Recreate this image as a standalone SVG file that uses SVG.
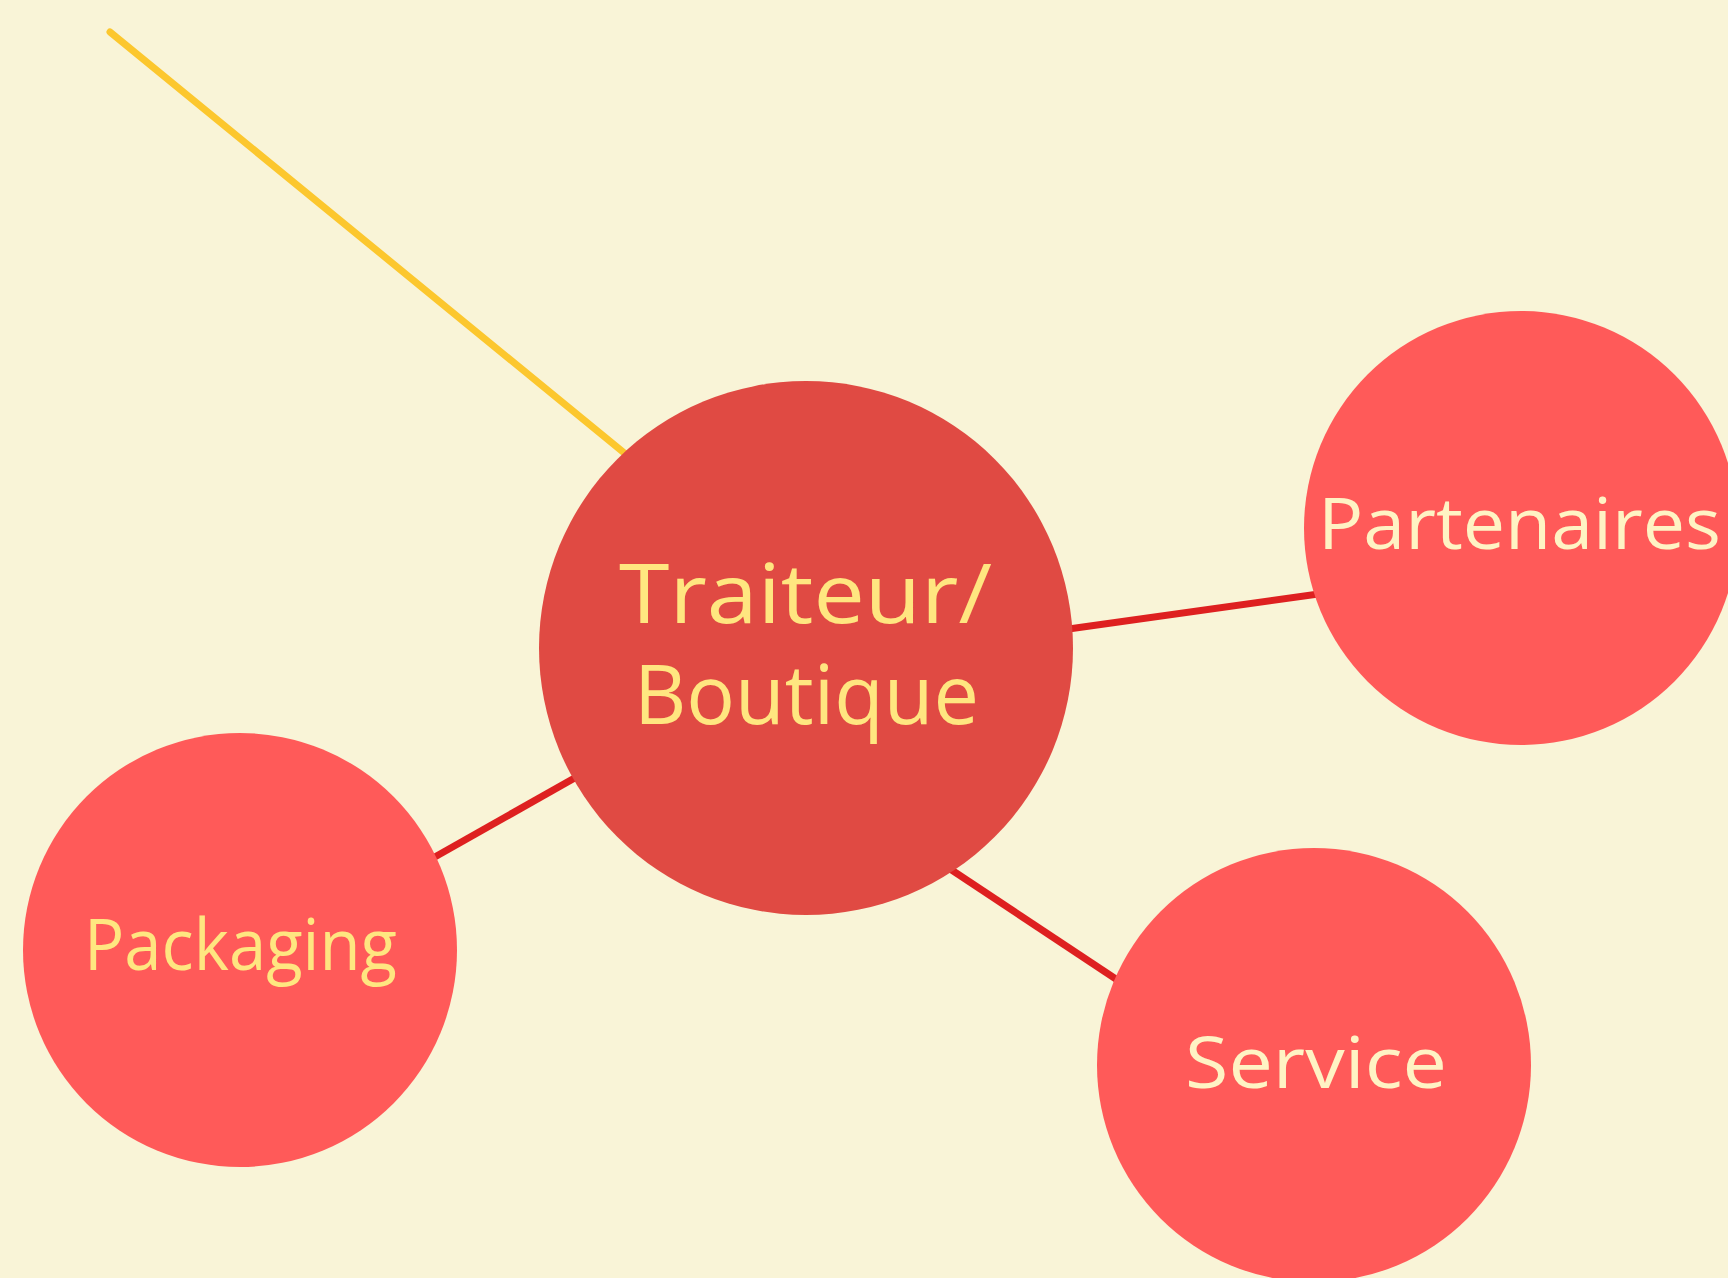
<svg xmlns="http://www.w3.org/2000/svg" width="1728" height="1278" viewBox="0 0 1728 1278">
  <style>
    .bg { fill: #F9F4D7; }
    .hub { fill: #E04A43; }
    .leaf { fill: #FF5A59; }
    .link { stroke: #DE2020; stroke-width: 7; fill: none; stroke-linecap: butt; }
    .trunk { stroke: #FCC72E; stroke-width: 7; fill: none; stroke-linecap: round; }
    .lbl { font-family: "Open Sans", "Noto Sans", "Liberation Sans", sans-serif; font-weight: 400; }
    .yel { fill: #FFE680; }
    .crm { fill: #FFF3C4; }
  </style>
  <rect class="bg" x="0" y="0" width="1728" height="1278"/>
  <g id="connectors">
    <line class="trunk" x1="110" y1="32" x2="700" y2="515"/>
    <line class="link" x1="1040" y1="633" x2="1340" y2="591"/>
    <line class="link" x1="610" y1="758" x2="410" y2="871"/>
    <line class="link" x1="920" y1="849" x2="1140" y2="995"/>
  </g>
  <g id="node-traiteur">
    <circle class="hub" cx="806" cy="648" r="267"/>
    <text class="lbl yel" x="619" y="623" font-size="82" textLength="373" lengthAdjust="spacingAndGlyphs">Traiteur/</text>
    <text class="lbl yel" x="634" y="724" font-size="82" textLength="345" lengthAdjust="spacingAndGlyphs">Boutique</text>
  </g>
  <g id="node-partenaires">
    <circle class="leaf" cx="1521" cy="528" r="217"/>
    <text class="lbl crm" x="1318" y="549" font-size="72" textLength="403" lengthAdjust="spacingAndGlyphs">Partenaires</text>
  </g>
  <g id="node-packaging">
    <circle class="leaf" cx="240" cy="950" r="217"/>
    <text class="lbl yel" x="84" y="970" font-size="72" textLength="313" lengthAdjust="spacingAndGlyphs">Packaging</text>
  </g>
  <g id="node-service">
    <circle class="leaf" cx="1314" cy="1065" r="217"/>
    <text class="lbl crm" x="1185" y="1088" font-size="72" textLength="262" lengthAdjust="spacingAndGlyphs">Service</text>
  </g>
</svg>
